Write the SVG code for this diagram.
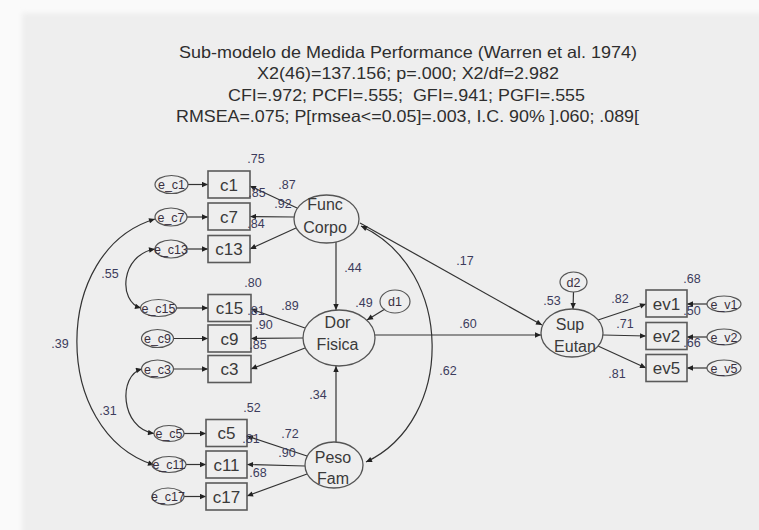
<svg xmlns="http://www.w3.org/2000/svg" width="759" height="530" viewBox="0 0 759 530">
  <defs>
    <filter id="soft" x="-5%" y="-5%" width="110%" height="110%">
      <feGaussianBlur stdDeviation="2.5"/>
    </filter>
    <marker id="ah" viewBox="0 0 10 10" refX="10" refY="5" markerWidth="8" markerHeight="6" markerUnits="userSpaceOnUse" orient="auto-start-reverse">
      <path d="M0,0.5 L10,5 L0,9.5 z" fill="#222"/>
    </marker>
    <style>
      .title { font-family: "Liberation Sans", Arial, sans-serif; font-size: 16.5px; fill: #2e2e2e; text-anchor: middle; }
      .box { fill: none; stroke: #5a5a5a; stroke-width: 1.6; }
      .lat { fill: none; stroke: #555; stroke-width: 1.3; }
      .err { fill: none; stroke: #555; stroke-width: 1.2; }
      .nt { font-family: "Liberation Sans", Arial, sans-serif; font-size: 17px; fill: #3a3a3a; text-anchor: middle; }
      .lt { font-family: "Liberation Sans", Arial, sans-serif; font-size: 16px; fill: #3a3a3a; text-anchor: middle; }
      .et { font-family: "Liberation Sans", Arial, sans-serif; font-size: 12.5px; fill: #3a3040; text-anchor: middle; }
      .num { font-family: "Liberation Sans", Arial, sans-serif; font-size: 12.5px; fill: #3c3c5c; text-anchor: middle; }
      .cn { fill: none; stroke: #333; stroke-width: 1.2; marker-end: url(#ah); }
      .cv { fill: none; stroke: #333; stroke-width: 1.2; marker-start: url(#ah); marker-end: url(#ah); }
    </style>
  </defs>

  <!-- page and soft-edged panel -->
  <rect x="0" y="0" width="759" height="530" fill="#fafafa"/>
  <rect x="22" y="13" width="760" height="540" fill="#eeeeee" filter="url(#soft)"/>

  <!-- heading and fit indices -->
  <g id="heading">
    <text class="title" x="408" y="57.5" textLength="458" lengthAdjust="spacingAndGlyphs">Sub-modelo de Medida Performance (Warren et al. 1974)</text>
    <text class="title" x="408" y="79" textLength="302" lengthAdjust="spacingAndGlyphs">X2(46)=137.156; p=.000; X2/df=2.982</text>
    <text class="title" x="406.5" y="100.5" textLength="357" lengthAdjust="spacingAndGlyphs" xml:space="preserve">CFI=.972; PCFI=.555;  GFI=.941; PGFI=.555</text>
    <text class="title" x="407.5" y="122" textLength="463" lengthAdjust="spacingAndGlyphs">RMSEA=.075; P[rmsea&lt;=0.05]=.003, I.C. 90% ].060; .089[</text>
  </g>

  <!-- connectors -->
  <g id="connectors">
    <!-- error terms to indicators -->
    <line class="cn" x1="188" y1="184.5" x2="208" y2="184.5"/>
    <line class="cn" x1="187" y1="217" x2="208" y2="217"/>
    <line class="cn" x1="187" y1="249" x2="208" y2="249"/>
    <line class="cn" x1="176.5" y1="308" x2="208" y2="308"/>
    <line class="cn" x1="173.5" y1="338.5" x2="208" y2="338.5"/>
    <line class="cn" x1="173.5" y1="369" x2="208" y2="369"/>
    <line class="cn" x1="184" y1="433.5" x2="206" y2="433.5"/>
    <line class="cn" x1="186" y1="464.5" x2="206" y2="464.5"/>
    <line class="cn" x1="184" y1="496.5" x2="206" y2="496.5"/>
    <line class="cn" x1="707" y1="304" x2="687" y2="304"/>
    <line class="cn" x1="707" y1="337" x2="687" y2="337"/>
    <line class="cn" x1="707" y1="368" x2="687" y2="368"/>

    <!-- Func Corpo loadings -->
    <line class="cn" x1="297" y1="208" x2="250" y2="186"/>
    <line class="cn" x1="294" y1="217" x2="250" y2="216.5"/>
    <line class="cn" x1="296" y1="228" x2="250" y2="249"/>
    <!-- Dor Fisica loadings -->
    <line class="cn" x1="305" y1="328" x2="251" y2="309"/>
    <line class="cn" x1="303" y1="338" x2="251" y2="338.5"/>
    <line class="cn" x1="305" y1="348" x2="251" y2="369"/>
    <!-- Peso Fam loadings -->
    <line class="cn" x1="307" y1="456" x2="247" y2="436"/>
    <line class="cn" x1="305" y1="466" x2="247" y2="464.5"/>
    <line class="cn" x1="307" y1="474" x2="247" y2="496"/>
    <!-- Sup Eutan loadings -->
    <line class="cn" x1="598" y1="320" x2="646" y2="304"/>
    <line class="cn" x1="603" y1="335" x2="646" y2="336"/>
    <line class="cn" x1="598" y1="346" x2="646" y2="368"/>

    <!-- structural paths -->
    <line class="cn" x1="336" y1="242" x2="336" y2="310"/>
    <line class="cn" x1="336" y1="442" x2="336" y2="366"/>
    <line class="cn" x1="360" y1="223" x2="542" y2="325"/>
    <line class="cn" x1="375" y1="335" x2="541" y2="335"/>
    <line class="cn" x1="385" y1="309" x2="367" y2="320"/>
    <line class="cn" x1="573.5" y1="292" x2="573" y2="309"/>

    <!-- covariances -->
    <path class="cv" d="M361,226 C455,270 455,420 366,462"/>
    <path class="cv" d="M155,219 C51,250 51,432 154,465"/>
    <path class="cv" d="M155,249 C120,255 118,302 141,308"/>
    <path class="cv" d="M142,369 C118,375 120,428 154,433.5"/>
  </g>

  <!-- latent variables -->
  <g id="func-corpo">
    <ellipse class="lat" cx="326.5" cy="219" rx="32.5" ry="24"/>
    <text class="lt" x="325" y="209.5">Func</text>
    <text class="lt" x="325" y="233">Corpo</text>
  </g>
  <g id="dor-fisica">
    <ellipse class="lat" cx="339" cy="338" rx="36" ry="28"/>
    <text class="lt" x="337.5" y="328">Dor</text>
    <text class="lt" x="337.5" y="350">Fisica</text>
  </g>
  <g id="peso-fam">
    <ellipse class="lat" cx="334" cy="465" rx="29" ry="23"/>
    <text class="lt" x="333" y="462.5">Peso</text>
    <text class="lt" x="333" y="484">Fam</text>
  </g>
  <g id="sup-eutan">
    <ellipse class="lat" cx="572" cy="333" rx="31" ry="24"/>
    <text class="lt" x="570" y="330">Sup</text>
    <text class="lt" x="575" y="351.5">Eutan</text>
  </g>

  <!-- disturbances -->
  <g id="d1">
    <ellipse class="err" cx="395" cy="301.5" rx="15" ry="11.5"/>
    <text class="et" x="395" y="306">d1</text>
  </g>
  <g id="d2">
    <ellipse class="err" cx="573.5" cy="282" rx="13.5" ry="10"/>
    <text class="et" x="573.5" y="286.5">d2</text>
  </g>

  <!-- observed indicators -->
  <g id="c1"><rect class="box" x="208" y="171" width="42" height="27"/><text class="nt" x="229" y="190.5">c1</text></g>
  <g id="c7"><rect class="box" x="208" y="203" width="42" height="27"/><text class="nt" x="229" y="222.5">c7</text></g>
  <g id="c13"><rect class="box" x="208" y="235.5" width="42" height="27"/><text class="nt" x="229" y="255">c13</text></g>
  <g id="c15"><rect class="box" x="208" y="294.5" width="43" height="27"/><text class="nt" x="229.5" y="314">c15</text></g>
  <g id="c9"><rect class="box" x="208" y="325" width="43" height="27"/><text class="nt" x="229.5" y="344.5">c9</text></g>
  <g id="c3"><rect class="box" x="208" y="355.5" width="43" height="27"/><text class="nt" x="229.5" y="375">c3</text></g>
  <g id="c5"><rect class="box" x="206" y="419.5" width="41" height="27"/><text class="nt" x="226.5" y="439">c5</text></g>
  <g id="c11"><rect class="box" x="206" y="451" width="41" height="27"/><text class="nt" x="226.5" y="470.5">c11</text></g>
  <g id="c17"><rect class="box" x="206" y="483" width="41" height="27"/><text class="nt" x="226.5" y="502.5">c17</text></g>
  <g id="ev1"><rect class="box" x="646" y="290" width="41" height="27"/><text class="nt" x="666.5" y="309.5">ev1</text></g>
  <g id="ev2"><rect class="box" x="646" y="322.5" width="41" height="27"/><text class="nt" x="666.5" y="342">ev2</text></g>
  <g id="ev5"><rect class="box" x="646" y="354.5" width="41" height="27"/><text class="nt" x="666.5" y="374">ev5</text></g>

  <!-- measurement errors -->
  <g id="e_c1"><ellipse class="err" cx="171.5" cy="184.5" rx="16.5" ry="9"/><text class="et" x="171.5" y="189">e_c1</text></g>
  <g id="e_c7"><ellipse class="err" cx="171" cy="217" rx="16" ry="9"/><text class="et" x="171" y="221.5">e_c7</text></g>
  <g id="e_c13"><ellipse class="err" cx="171" cy="249" rx="16" ry="9"/><text class="et" x="171" y="253.5">e_c13</text></g>
  <g id="e_c15"><ellipse class="err" cx="158.5" cy="308" rx="18" ry="8.5"/><text class="et" x="158.5" y="312.5">e_c15</text></g>
  <g id="e_c9"><ellipse class="err" cx="157.5" cy="338.5" rx="16" ry="9"/><text class="et" x="157.5" y="343">e_c9</text></g>
  <g id="e_c3"><ellipse class="err" cx="157.5" cy="369" rx="16" ry="9"/><text class="et" x="157.5" y="373.5">e_c3</text></g>
  <g id="e_c5"><ellipse class="err" cx="169" cy="433.5" rx="15" ry="8"/><text class="et" x="169" y="438">e_c5</text></g>
  <g id="e_c11"><ellipse class="err" cx="169" cy="464.5" rx="17" ry="8"/><text class="et" x="169" y="469">e_c11</text></g>
  <g id="e_c17"><ellipse class="err" cx="168" cy="496.5" rx="16" ry="8.5"/><text class="et" x="168" y="501">e_c17</text></g>
  <g id="e_v1"><ellipse class="err" cx="724" cy="304" rx="17" ry="8"/><text class="et" x="724" y="308.5">e_v1</text></g>
  <g id="e_v2"><ellipse class="err" cx="724" cy="337" rx="17" ry="8"/><text class="et" x="724" y="341.5">e_v2</text></g>
  <g id="e_v5"><ellipse class="err" cx="724" cy="368" rx="17" ry="8"/><text class="et" x="724" y="372.5">e_v5</text></g>

  <!-- estimates -->
  <g id="estimates">
    <text class="num" x="256" y="162.5">.75</text>
    <text class="num" x="287" y="188.5">.87</text>
    <text class="num" x="283" y="207.5">.92</text>
    <text class="num" x="257" y="196.5">.85</text>
    <text class="num" x="256" y="227.5">.84</text>
    <text class="num" x="253" y="286.5">.80</text>
    <text class="num" x="290" y="309.5">.89</text>
    <text class="num" x="256" y="314.5">.81</text>
    <text class="num" x="264" y="329">.90</text>
    <text class="num" x="258" y="348.5">.85</text>
    <text class="num" x="353" y="271.5">.44</text>
    <text class="num" x="364" y="306.5">.49</text>
    <text class="num" x="465" y="264.5">.17</text>
    <text class="num" x="468" y="327.5">.60</text>
    <text class="num" x="448" y="374.5">.62</text>
    <text class="num" x="318" y="398.5">.34</text>
    <text class="num" x="60" y="347.5">.39</text>
    <text class="num" x="110" y="277.5">.55</text>
    <text class="num" x="108" y="414.5">.31</text>
    <text class="num" x="252" y="411.5">.52</text>
    <text class="num" x="290" y="437.5">.72</text>
    <text class="num" x="287" y="456.5">.90</text>
    <text class="num" x="251" y="442.5">.81</text>
    <text class="num" x="258" y="476.5">.68</text>
    <text class="num" x="552" y="304.5">.53</text>
    <text class="num" x="620" y="302.5">.82</text>
    <text class="num" x="625" y="327.5">.71</text>
    <text class="num" x="617" y="377.5">.81</text>
    <text class="num" x="692" y="282.5">.68</text>
    <text class="num" x="692" y="314.5">.50</text>
    <text class="num" x="692" y="346.5">.66</text>
  </g>
</svg>
